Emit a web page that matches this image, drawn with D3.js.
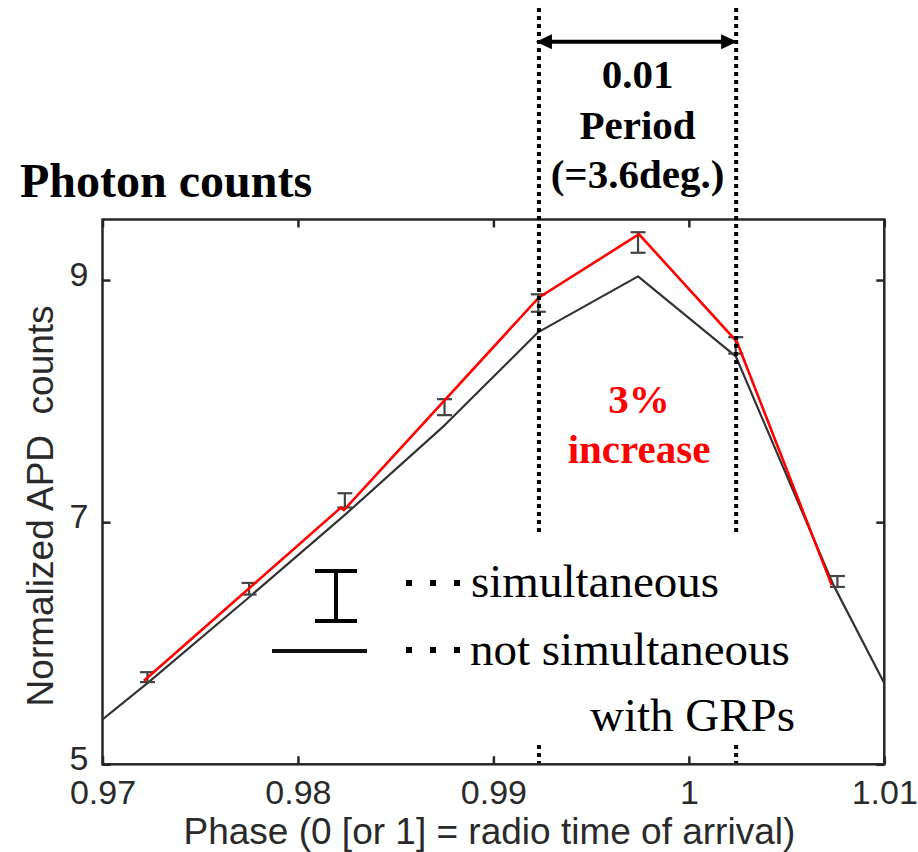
<!DOCTYPE html>
<html><head><meta charset="utf-8">
<script src="https://cdn.jsdelivr.net/npm/d3@7"></script>
<style>body{margin:0;background:#fff}svg{display:block}</style>
</head><body>
<script>
// ---- data ----
const xDomain = [0.97, 1.01];
const yDomain = [5, 9.5];
const xTicks = [0.97, 0.98, 0.99, 1, 1.01];
const xTickLabels = ["0.97", "0.98", "0.99", "1", "1.01"];
const yTicks = [5, 7, 9];
const yTickLabels = ["5", "7", "9"];

// simultaneous with GRPs: error bars
const errPhase = [0.9723, 0.9775, 0.9824, 0.9875, 0.9923, 0.9974, 1.0024, 1.0076];
const errMean  = [5.72, 6.45, 7.18, 7.95, 8.81, 9.31, 8.46, 6.51];
const errHalf  = [0.041, 0.048, 0.059, 0.066, 0.072, 0.085, 0.068, 0.045];

// red guide line drawn over the error bars
const redPhase = [0.97212, 0.9822, 0.98235, 0.99233, 0.99745, 1.00246, 1.00731];
const redValue = [5.69, 7.12, 7.10, 8.856, 9.378, 8.49, 6.48];

// not simultaneous with GRPs
const blackPhase = [0.97, 0.9723, 0.9775, 0.9824, 0.9875, 0.9923, 0.9974, 1.0024, 1.0074, 1.01];
const blackValue = [5.37, 5.67, 6.38, 7.06, 7.80, 8.57, 9.03, 8.37, 6.48, 5.67];

// dotted markers: 0.01 period window
const windowPhase = [0.99233, 1.00242];

// ---- drawing ----
const W = 918, H = 852;
const L = 102.5, R = 884.3, T = 219.5, B = 764.3;
const sans = "'Liberation Sans', Arial, Helvetica, sans-serif";
const serif = "'Liberation Serif', 'Times New Roman', serif";

const svg = d3.select("body").append("svg").attr("width", W).attr("height", H);
svg.append("rect").attr("width", W).attr("height", H).attr("fill", "#fff");

const x = d3.scaleLinear().domain(xDomain).range([L, R]);
const y = d3.scaleLinear().domain(yDomain).range([B, T]);

svg.append("defs").append("clipPath").attr("id", "plot")
  .append("rect").attr("x", L).attr("y", T).attr("width", R - L).attr("height", B - T);

// axes
const axisColor = "#262626";
function styleAxis(g) {
  g.select(".domain").remove();
  g.selectAll(".tick line").attr("stroke", axisColor).attr("stroke-width", 2.5);
  g.selectAll(".tick text").attr("fill", "#2a2a2a").attr("font-family", sans).attr("font-size", 34);
}
svg.append("g").attr("transform", `translate(0,${B})`)
  .call(d3.axisBottom(x).tickValues(xTicks).tickFormat((d, i) => xTickLabels[i]).tickSize(-8).tickSizeOuter(0).tickPadding(16))
  .call(styleAxis);
svg.append("g").attr("transform", `translate(0,${T})`)
  .call(d3.axisTop(x).tickValues(xTicks).tickFormat("").tickSize(-8).tickSizeOuter(0))
  .call(styleAxis);
svg.append("g").attr("transform", `translate(${L},0)`)
  .call(d3.axisLeft(y).tickValues(yTicks).tickFormat((d, i) => yTickLabels[i]).tickSize(-8).tickSizeOuter(0).tickPadding(14))
  .call(styleAxis)
  .call(g => g.selectAll(".tick text").attr("dy", "0.15em"));
svg.append("g").attr("transform", `translate(${R},0)`)
  .call(d3.axisRight(y).tickValues(yTicks).tickFormat("").tickSize(-8).tickSizeOuter(0))
  .call(styleAxis);
svg.append("rect").attr("x", L).attr("y", T).attr("width", R - L).attr("height", B - T)
  .attr("fill", "none").attr("stroke", axisColor).attr("stroke-width", 2.5);

// axis titles
svg.append("text").attr("x", (L + R) / 2 - 4).attr("y", 844).attr("text-anchor", "middle")
  .attr("font-family", sans).attr("font-size", 37).attr("fill", "#2a2a2a")
  .text("Phase (0 [or 1] = radio time of arrival)");
svg.append("text").attr("transform", `translate(53,${(T + B) / 2 + 14}) rotate(-90)`)
  .attr("text-anchor", "middle").attr("font-family", sans).attr("font-size", 37).attr("fill", "#2a2a2a")
  .style("white-space", "pre").text("Normalized APD  counts");

const plot = svg.append("g").attr("clip-path", "url(#plot)");

// black line
const line = d3.line().x(d => x(d[0])).y(d => y(d[1]));
plot.append("path").datum(d3.zip(blackPhase, blackValue)).attr("d", line)
  .attr("fill", "none").attr("stroke", "#333").attr("stroke-width", 2.2).attr("stroke-linejoin", "round");

// error bars
const eb = svg.append("g").attr("stroke", "#444").attr("stroke-width", 2.2);
errPhase.forEach((p, i) => {
  const cx = x(p), y0 = y(errMean[i] - errHalf[i]), y1 = y(errMean[i] + errHalf[i]);
  eb.append("line").attr("x1", cx).attr("x2", cx).attr("y1", y0).attr("y2", y1);
  eb.append("line").attr("x1", cx - 7.5).attr("x2", cx + 7.5).attr("y1", y0).attr("y2", y0);
  eb.append("line").attr("x1", cx - 7.5).attr("x2", cx + 7.5).attr("y1", y1).attr("y2", y1);
});

// red line
svg.append("path").datum(d3.zip(redPhase, redValue)).attr("d", line)
  .attr("fill", "none").attr("stroke", "#ff0000").attr("stroke-width", 2.6);

// dotted window lines
windowPhase.forEach(p => {
  svg.append("line").attr("x1", x(p)).attr("x2", x(p)).attr("y1", 8).attr("y2", 536)
    .attr("stroke", "#000").attr("stroke-width", 4).attr("stroke-dasharray", "4,4");
  svg.append("line").attr("x1", x(p)).attr("x2", x(p)).attr("y1", 745).attr("y2", 763)
    .attr("stroke", "#000").attr("stroke-width", 4).attr("stroke-dasharray", "4,4");
});

// double arrow
const ax0 = x(windowPhase[0]) - 3, ax1 = x(windowPhase[1]) + 1, ay = 41.7;
svg.append("line").attr("x1", ax0 + 12).attr("x2", ax1 - 12).attr("y1", ay).attr("y2", ay)
  .attr("stroke", "#000").attr("stroke-width", 4);
svg.append("path").attr("d", `M${ax0},${ay} L${ax0 + 16},${ay - 7.5} L${ax0 + 16},${ay + 7.5} Z`).attr("fill", "#000");
svg.append("path").attr("d", `M${ax1},${ay} L${ax1 - 16},${ay - 7.5} L${ax1 - 16},${ay + 7.5} Z`).attr("fill", "#000");

// annotations
const midX = (x(windowPhase[0]) + x(windowPhase[1])) / 2;
[["0.01", 88], ["Period", 139], ["(=3.6deg.)", 188]].forEach(([t, yy]) => {
  svg.append("text").attr("x", midX).attr("y", yy).attr("text-anchor", "middle")
    .attr("font-family", serif).attr("font-weight", "bold").attr("font-size", 41).attr("fill", "#000").text(t);
});
svg.append("text").attr("x", 20).attr("y", 197).attr("font-family", serif).attr("font-weight", "bold")
  .attr("font-size", 48).attr("fill", "#000").text("Photon counts");
[["3%", 413], ["increase", 463]].forEach(([t, yy]) => {
  svg.append("text").attr("x", 639).attr("y", yy).attr("text-anchor", "middle")
    .attr("font-family", serif).attr("font-weight", "bold").attr("font-size", 41).attr("fill", "#ff0000").text(t);
});

// legend
const lg = svg.append("g");
lg.append("line").attr("x1", 336).attr("x2", 336).attr("y1", 571).attr("y2", 621).attr("stroke", "#000").attr("stroke-width", 4);
lg.append("line").attr("x1", 315).attr("x2", 357).attr("y1", 571).attr("y2", 571).attr("stroke", "#000").attr("stroke-width", 4);
lg.append("line").attr("x1", 315).attr("x2", 357).attr("y1", 621).attr("y2", 621).attr("stroke", "#000").attr("stroke-width", 4);
lg.append("line").attr("x1", 272).attr("x2", 367).attr("y1", 651).attr("y2", 651).attr("stroke", "#111").attr("stroke-width", 4);
[583, 650].forEach(cy => {
  [409, 433, 457].forEach(cx => {
    lg.append("rect").attr("x", cx - 3).attr("y", cy - 3).attr("width", 6).attr("height", 6).attr("fill", "#000");
  });
});
lg.append("text").attr("x", 471).attr("y", 597).attr("font-family", serif).attr("font-size", 47).attr("fill", "#000").text("simultaneous");
lg.append("text").attr("x", 470).attr("y", 665).attr("font-family", serif).attr("font-size", 47).attr("fill", "#000").text("not simultaneous");
lg.append("text").attr("x", 795).attr("y", 731).attr("text-anchor", "end").attr("font-family", serif).attr("font-size", 47).attr("fill", "#000").text("with GRPs");
</script>
</body></html>
